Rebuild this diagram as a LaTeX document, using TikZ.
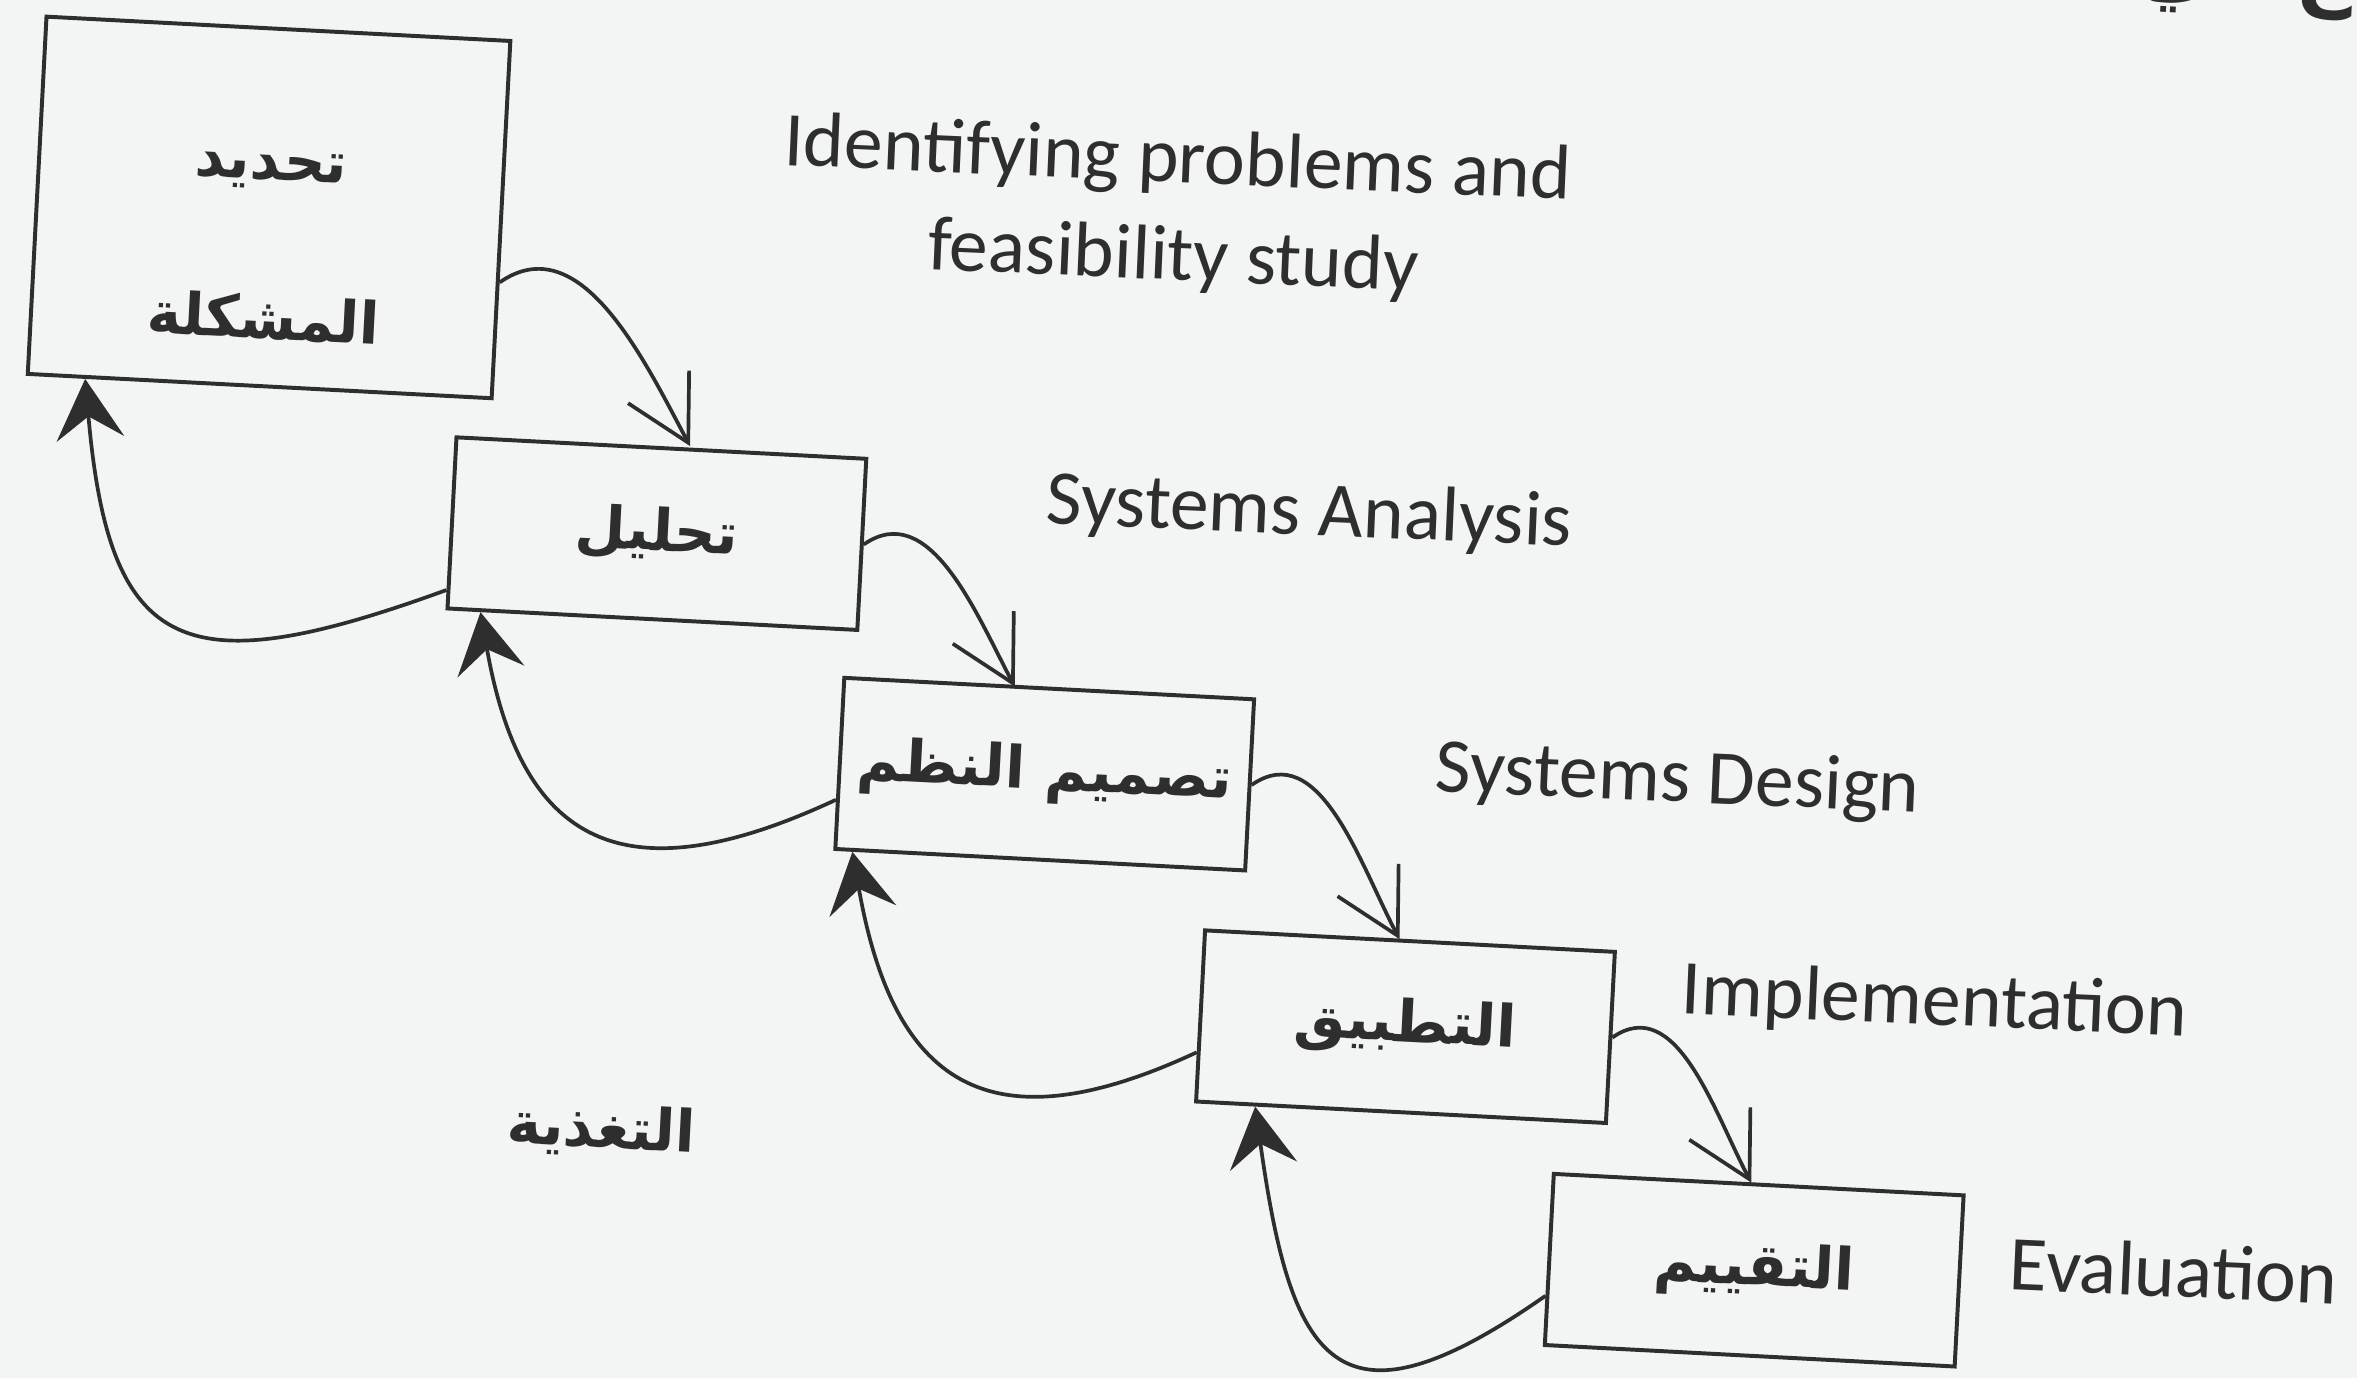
\documentclass[tikz,border=0pt]{standalone}
\usepackage{fontspec}
\setmainfont{Carlito}
\newfontfamily\arabicfont[Script=Arabic]{DejaVu Sans}
\TeXXeTstate=1
\usetikzlibrary{arrows.meta}
\definecolor{paper}{HTML}{F3F4F4}
\definecolor{ink}{HTML}{2E2E2E}
\begin{document}
\begin{tikzpicture}[x=0.1mm,y=0.1mm,
      stage/.style={draw=ink,text=ink,line width=0.75pt,rotate=-3,inner sep=0pt,
        minimum width=27.3mm,minimum height=11.4mm,align=center,
        font=\arabicfont\bfseries\fontsize{11}{13}\selectfont},
      arabic/.style={text=ink,rotate=-3,
        font=\arabicfont\bfseries\fontsize{11}{13}\selectfont},
      english/.style={text=ink,rotate=-2.5,align=center,
        font=\fontsize{14.7}{18.5}\selectfont},
      fwd/.style={draw=ink,line width=0.7pt,
        -{Straight Barb[length=4.2mm,width=4.6mm]}},
      back/.style={draw=ink,line width=0.7pt,looseness=1.5,
        -{Stealth[length=4mm,width=4.5mm,inset=1.5mm]}}]
    \fill[paper] (0,0) rectangle (1568,-917);
    \useasboundingbox (0,0) rectangle (1568,-917);
    % stages
    \node[stage,minimum width=30.9mm,minimum height=23.8mm] (problem) at (179,-138)
        {\rule{0pt}{7mm}\beginR تحديد\endR\\[6mm]\beginR المشكلة\endR};
    \node[stage] (analysis) at (437,-355) {\beginR تحليل\endR};
    \node[stage] (design) at (695,-515) {\beginR تصميم النظم\endR};
    \node[stage] (implement) at (935,-683) {\beginR التطبيق\endR};
    \node[stage] (evaluate) at (1167,-845) {\beginR التقييم\endR};
    % english labels
    \node[english] (lproblem) at (782,-140) {Identifying problems and\\feasibility study};
    \node[english] (lanalysis) at (871,-342) {Systems Analysis};
    \node[english] (ldesign) at (1116,-520) {Systems Design};
    \node[english] (limplement) at (1287,-668) {Implementation};
    \node[english] (levaluate) at (1446,-845) {Evaluation};
    \node[arabic] (feedback) at (400,-752) {\beginR التغذية\endR};
    \node[arabic,anchor=base,font=\arabicfont\bfseries\fontsize{15}{18}\selectfont]
        (edge) at (1492,2) {\beginR ع في\endR};
    % forward arrows
    \draw[fwd] (problem.-15) to[out=35,in=118] ([xshift=1.9mm]analysis.north);
    \draw[fwd] (analysis.east) to[out=35,in=118] ([xshift=-2.3mm]design.north);
    \draw[fwd] (design.east) to[out=35,in=118] ([xshift=-0.7mm]implement.north);
    \draw[fwd] (implement.east) to[out=35,in=118] ([xshift=-0.5mm]evaluate.north);
    % feedback arrows
    \draw[back] (analysis.198) to[out=200,in=275,looseness=1.7] (problem.226);
    \draw[back] (design.190) to[out=205,in=280] (analysis.207);
    \draw[back] (implement.190) to[out=205,in=280] (design.205);
    \draw[back] (evaluate.190) to[out=215,in=278,looseness=1.9] (implement.211);
\end{tikzpicture}
\end{document}
